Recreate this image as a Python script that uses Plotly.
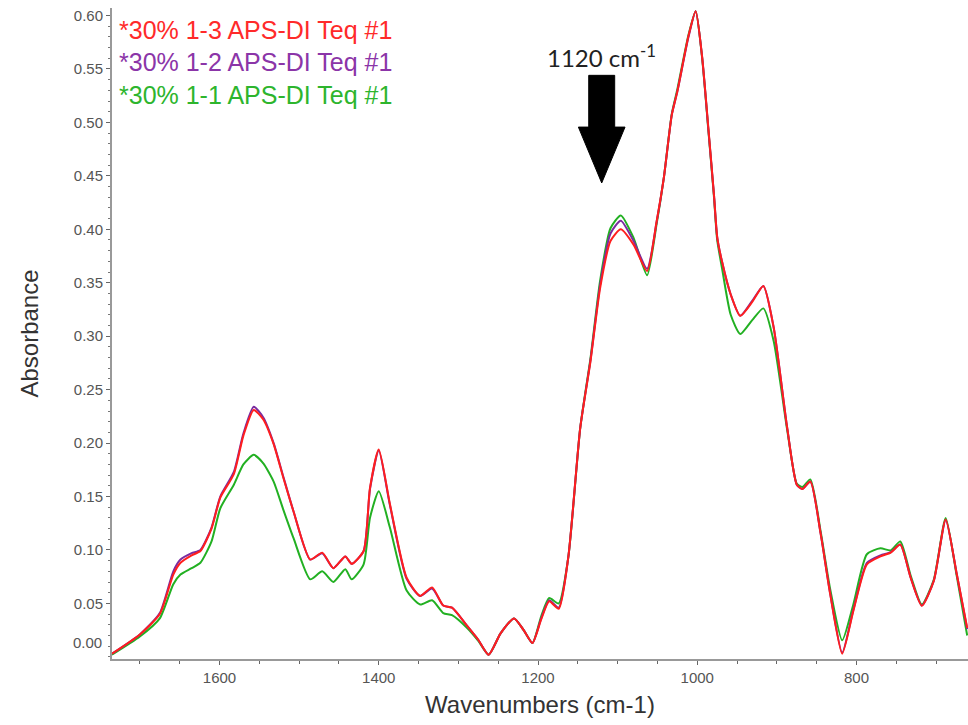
import plotly.graph_objects as go

# Wavenumber grid (cm-1), high to low
wavenumbers = [
    1735, 1700, 1675, 1658, 1649, 1635, 1624, 1610, 1599, 1582, 1570, 1557,
    1545, 1532, 1520, 1507, 1486, 1471, 1457, 1442, 1434, 1419, 1411, 1400,
    1386, 1365, 1348, 1333, 1319, 1308, 1289, 1275, 1262, 1247, 1230, 1218,
    1207, 1196, 1186, 1174, 1162, 1147, 1134, 1122, 1109, 1096, 1080, 1063,
    1051, 1042, 1032, 1025, 1011, 1002, 994, 986, 979, 975, 969, 958, 946, 931,
    917, 904, 887, 875, 868, 858, 845, 833, 818, 804, 787, 770, 757, 745,
    732, 718, 703, 688, 674, 661,
]

# Absorbance spectra
abs_1_3 = [
    0.003, 0.021, 0.040, 0.077, 0.088, 0.095, 0.099, 0.120, 0.149, 0.171, 0.207, 0.231,
    0.222, 0.199, 0.168, 0.136, 0.091, 0.0975, 0.083, 0.094, 0.087, 0.099, 0.158, 0.194,
    0.143, 0.074, 0.057, 0.065, 0.048, 0.046, 0.029, 0.016, 0.002, 0.022, 0.036, 0.025,
    0.013, 0.035, 0.052, 0.045, 0.093, 0.214, 0.277, 0.345, 0.389, 0.400, 0.3856, 0.361,
    0.4075, 0.448, 0.507, 0.529, 0.581, 0.604, 0.562, 0.494, 0.432, 0.393, 0.370, 0.339, 0.319, 0.332,
    0.347, 0.308, 0.214, 0.161, 0.157, 0.164, 0.115, 0.0585, 0.003, 0.043, 0.0866, 0.094, 0.0975, 0.105,
    0.074, 0.0477, 0.071, 0.1286, 0.077, 0.027,
]
abs_1_2 = [
    0.003, 0.021, 0.041, 0.080, 0.091, 0.097, 0.100, 0.121, 0.150, 0.173, 0.209, 0.234,
    0.224, 0.200, 0.169, 0.136, 0.091, 0.097, 0.083, 0.094, 0.087, 0.099, 0.157, 0.193,
    0.142, 0.073, 0.057, 0.064, 0.048, 0.046, 0.029, 0.016, 0.002, 0.022, 0.036, 0.025,
    0.013, 0.036, 0.053, 0.046, 0.093, 0.214, 0.278, 0.348, 0.396, 0.408, 0.389, 0.363,
    0.407, 0.448, 0.507, 0.529, 0.580, 0.604, 0.562, 0.493, 0.432, 0.393, 0.370, 0.339, 0.319, 0.333,
    0.347, 0.308, 0.214, 0.161, 0.157, 0.164, 0.115, 0.059, 0.004, 0.044, 0.088, 0.095, 0.098, 0.105,
    0.074, 0.048, 0.071, 0.128, 0.077, 0.026,
]
abs_1_1 = [
    0.002, 0.019, 0.036, 0.068, 0.077, 0.083, 0.088, 0.108, 0.139, 0.161, 0.180, 0.189,
    0.181, 0.164, 0.138, 0.111, 0.0725, 0.080, 0.070, 0.082, 0.0725, 0.0866, 0.130, 0.155,
    0.121, 0.062, 0.049, 0.053, 0.041, 0.039, 0.027, 0.015, 0.002, 0.022, 0.036, 0.025,
    0.013, 0.038, 0.055, 0.050, 0.093, 0.214, 0.280, 0.352, 0.401, 0.413, 0.392, 0.357,
    0.405, 0.448, 0.508, 0.531, 0.582, 0.604, 0.561, 0.492, 0.430, 0.390, 0.364, 0.320, 0.302, 0.315,
    0.326, 0.2953, 0.212, 0.162, 0.159, 0.166, 0.117, 0.063, 0.0155, 0.049, 0.096, 0.1015, 0.0996, 0.108,
    0.076, 0.049, 0.072, 0.130, 0.075, 0.020,
]

series_names = [
    "*30% 1-3 APS-DI Teq #1",
    "*30% 1-2 APS-DI Teq #1",
    "*30% 1-1 APS-DI Teq #1",
]
series_values = [abs_1_3, abs_1_2, abs_1_1]
line_colors = ["#FF1E1E", "#7A2CA0", "#22B022"]
label_colors = ["#FF2A2A", "#8B35A8", "#2DB52D"]

# labelled y ticks; the 0.00 label is placed separately just above the axis
y_ticks = [round(0.05 * i, 2) for i in range(1, 13)]
x_ticks = [1600, 1400, 1200, 1000, 800]

ARROW_AT = 1120          # cm-1 band marked by the arrow
ARROW_LABEL = "1120 cm<sup>-1</sup>"

fig = go.Figure()

# draw green first, red on top
for name, vals, col in reversed(list(zip(series_names, series_values, line_colors))):
    fig.add_trace(go.Scatter(
        x=wavenumbers, y=vals, mode="lines", name=name,
        line=dict(color=col, width=2, shape="spline", smoothing=0.6),
        showlegend=False,
    ))

# block arrow pointing down at the band
sw, hw = 16.3, 29.3
y_top, y_head, y_tip = 0.544, 0.4956, 0.4433
path = (
    f"M {ARROW_AT - sw},{y_top} L {ARROW_AT + sw},{y_top} "
    f"L {ARROW_AT + sw},{y_head} L {ARROW_AT + hw},{y_head} "
    f"L {ARROW_AT},{y_tip} L {ARROW_AT - hw},{y_head} "
    f"L {ARROW_AT - sw},{y_head} Z"
)
fig.add_shape(type="path", path=path, xref="x", yref="y",
              fillcolor="black", line=dict(color="black", width=1))

fig.add_annotation(x=ARROW_AT, y=0.562, xref="x", yref="y", text=ARROW_LABEL,
                   showarrow=False, font=dict(family="Lato", size=24, color="#222222"))

# coloured series labels, top left
label_y = [0.966, 0.917, 0.866]
for name, col, yy in zip(series_names, label_colors, label_y):
    fig.add_annotation(x=0.006, y=yy, xref="paper", yref="paper", text=name,
                       showarrow=False, xanchor="left", yanchor="middle",
                       font=dict(family="Liberation Sans", size=25, color=col))

# the zero label sits slightly above its tick
fig.add_annotation(x=0, y=0, xref="paper", yref="y", text="0.00", showarrow=False,
                   xanchor="right", yanchor="middle", xshift=-8, yshift=14,
                   font=dict(family="Liberation Sans", size=15, color="#555555"))

fig.update_layout(
    width=968, height=725,
    margin=dict(l=112, r=0, t=8, b=66),
    paper_bgcolor="white", plot_bgcolor="white",
    font=dict(family="Liberation Sans", color="#333333"),
)
fig.update_xaxes(
    range=[1735, 660], tickvals=x_ticks, ticktext=[str(t) for t in x_ticks],
    ticks="outside", ticklen=4, tickcolor="#666666",
    minor=dict(dtick=50, tick0=0, ticks="outside", ticklen=3, tickcolor="#666666"),
    showline=True, linecolor="#999999", linewidth=2, showgrid=False, zeroline=False,
    tickfont=dict(family="Liberation Sans", size=15, color="#555555"),
    title=dict(text="Wavenumbers (cm-1)", standoff=11,
               font=dict(family="Liberation Sans", size=24, color="#333333")),
)
fig.update_yaxes(
    range=[-0.002, 0.607], tickvals=y_ticks,
    ticktext=[f"{t:.2f}" for t in y_ticks],
    ticks="outside", ticklen=4, tickcolor="#666666",
    minor=dict(dtick=0.01, tick0=0, ticks="outside", ticklen=2, tickcolor="#777777"),
    showline=True, linecolor="#999999", linewidth=2, showgrid=False, zeroline=False,
    tickfont=dict(family="Liberation Sans", size=15, color="#555555"),
    title=dict(text="Absorbance", standoff=28,
               font=dict(family="Liberation Sans", size=24, color="#333333")),
)

fig.write_html("out.html")
